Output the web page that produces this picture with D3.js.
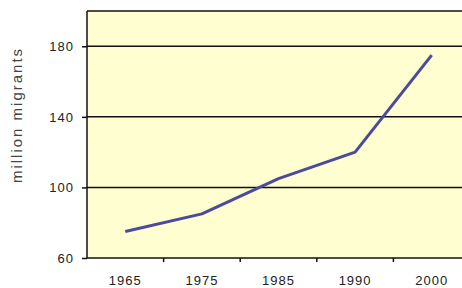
<!DOCTYPE html>
<html>
<head>
<meta charset="utf-8">
<script src="https://d3js.org/d3.v7.min.js"></script>
<style>
  body { margin: 0; background: #fff; }
  svg { display: block; }
  .tick text { font-family: Arial, "Liberation Sans", sans-serif; font-size: 13px; letter-spacing: 1px; fill: #222; }
</style>
</head>
<body>
<div class="chart"></div>
<script>
var years = ["1965", "1975", "1985", "1990", "2000"];
var migrants = [75, 85, 105, 120, 175];
var yTicks = [60, 100, 140, 180];

var svgWidth = 462;
var svgHeight = 288;

var margin = { top: 11, right: -8, bottom: 30, left: 87 };
var width = svgWidth - margin.left - margin.right;
var height = svgHeight - margin.top - margin.bottom;

var svg = d3.select(".chart")
  .append("svg")
  .attr("width", svgWidth)
  .attr("height", svgHeight);

var chartGroup = svg.append("g")
  .attr("transform", `translate(${margin.left}, ${margin.top})`);

var xScale = d3.scaleBand()
  .domain(years)
  .range([0, width]);

var yScale = d3.scaleLinear()
  .domain([60, 200])
  .range([height, 0]);

// plot background
chartGroup.append("rect")
  .attr("width", width)
  .attr("height", height)
  .attr("fill", "#fefed0");

// gridlines (including top border at 200)
chartGroup.selectAll(".grid")
  .data(yTicks.slice(1).concat([200]))
  .enter()
  .append("line")
  .attr("x1", 0)
  .attr("x2", width)
  .attr("y1", d => yScale(d))
  .attr("y2", d => yScale(d))
  .attr("stroke", "#111")
  .attr("stroke-width", 1.5);

var leftAxis = d3.axisLeft(yScale)
  .tickValues(yTicks)
  .tickSize(5)
  .tickPadding(8);

var leftG = chartGroup.append("g")
  .call(leftAxis);
leftG.select(".domain").attr("stroke", "#111").attr("stroke-width", 1.5)
  .attr("d", `M0,${height}V0`);
leftG.selectAll(".tick line").attr("stroke", "#111").attr("stroke-width", 1.5);

// bottom axis: ticks between categories
var bottomG = chartGroup.append("g")
  .attr("transform", `translate(0, ${height})`);
bottomG.append("line")
  .attr("x1", 0)
  .attr("x2", width)
  .attr("stroke", "#111")
  .attr("stroke-width", 1.5);
bottomG.selectAll(".btick")
  .data(years.slice(1))
  .enter()
  .append("line")
  .attr("x1", d => xScale(d))
  .attr("x2", d => xScale(d))
  .attr("y1", 0)
  .attr("y2", 4)
  .attr("stroke", "#111")
  .attr("stroke-width", 1.5);
bottomG.selectAll(".tick")
  .data(years)
  .enter()
  .append("g")
  .attr("class", "tick")
  .append("text")
  .attr("x", d => xScale(d) + xScale.bandwidth() / 2)
  .attr("y", 27)
  .attr("text-anchor", "middle")
  .text(d => d);

var line = d3.line()
  .x((d, i) => xScale(years[i]) + xScale.bandwidth() / 2)
  .y(d => yScale(d));

chartGroup.append("path")
  .datum(migrants)
  .attr("d", line)
  .attr("fill", "none")
  .attr("stroke", "#4a4a9e")
  .attr("stroke-width", 3)
  .attr("stroke-linejoin", "round");

svg.append("text")
  .attr("transform", `translate(22, 115) rotate(-90)`)
  .attr("text-anchor", "middle")
  .attr("font-family", "Arial, 'Liberation Sans', sans-serif")
  .attr("font-size", 15)
  .attr("letter-spacing", 2)
  .attr("fill", "#444")
  .text("million migrants");
</script>
</body>
</html>
